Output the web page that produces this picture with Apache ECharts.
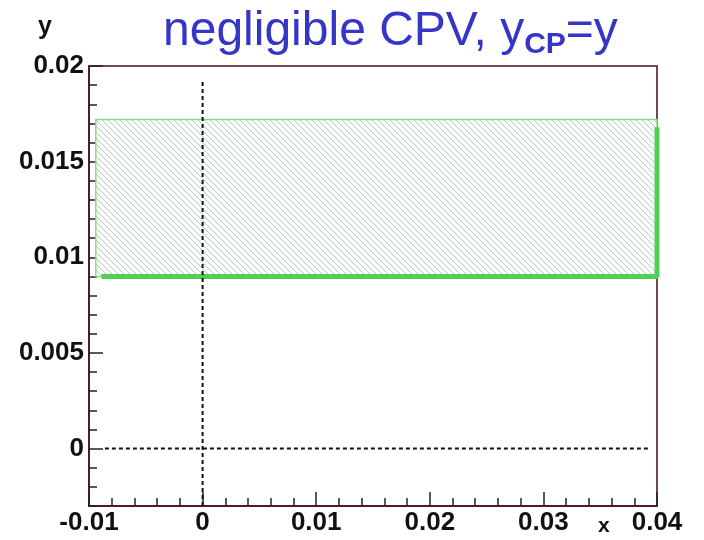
<!DOCTYPE html>
<html>
<head>
<meta charset="utf-8">
<script src="https://cdn.jsdelivr.net/npm/echarts@6/dist/echarts.min.js"></script>
<style>
  html, body { margin: 0; padding: 0; background: #fff; }
  #chart { width: 704px; height: 540px; }
</style>
</head>
<body>
<div id="chart"></div>
<script>
// axis ranges and ticks
var xRange = [-0.01, 0.04];
var yRange = [-0.003, 0.02];
var yMajorTicks = [0, 0.005, 0.01, 0.015, 0.02];
var yMinorTicks = [-0.003, -0.002, -0.001, 0.001, 0.002, 0.003, 0.004, 0.006, 0.007, 0.008, 0.009,
  0.011, 0.012, 0.013, 0.014, 0.016, 0.017, 0.018, 0.019];

// allowed band (hatched) for negligible CPV
var bandX = [-0.0094, 0.04];
var bandY = [0.009, 0.0172];
// thick edge of the band (bottom + right)
var bandEdge = [[-0.0089, 0.009], [0.04, 0.009], [0.04, 0.0168]];

// dashed reference lines
var zeroVLine = [[0, -0.003], [0, 0.0193]];
var zeroHLine = [[-0.0086, 0], [0.0394, 0]];

var frameColor = '#4a0d14';

// hatch pattern "\\\"
var hatch = document.createElement('canvas');
hatch.width = 6; hatch.height = 6;
var hc = hatch.getContext('2d');
hc.fillStyle = '#fcfefc';
hc.fillRect(0, 0, 6, 6);
hc.strokeStyle = '#b9cbc0';
hc.lineWidth = 1;
hc.beginPath();
hc.moveTo(-1, -1); hc.lineTo(7, 7);
hc.moveTo(-1, 5); hc.lineTo(1, 7);
hc.moveTo(5, -1); hc.lineTo(7, 1);
hc.stroke();

var myChart = echarts.init(document.getElementById('chart'));

function fmt(v) {
  return String(+v.toFixed(3));
}

var labelStyle = {
  fontWeight: 'bold', fontSize: 26, fontFamily: 'Liberation Sans, Arial, sans-serif',
  color: '#111'
};

var option = {
  animation: false,
  backgroundColor: '#fff',
  grid: {
    left: 89, right: 47, top: 66, bottom: 34,
    show: true,
    borderColor: frameColor,
    borderWidth: 1.5,
    backgroundColor: 'transparent'
  },
  graphic: [
    {
      type: 'text',
      left: 163, top: 8,
      style: {
        text: 'negligible CPV, y{sub|CP}=y',
        font: '48px "Liberation Sans", Arial, sans-serif',
        fill: '#3535c8',
        rich: {
          sub: {
            font: 'bold 30px "Liberation Sans", Arial, sans-serif',
            fill: '#3535c8',
            padding: [26, 0, 0, 0]
          }
        }
      }
    },
    {
      type: 'text',
      left: 38, top: 15,
      style: { text: 'y', font: 'bold 25px "Liberation Sans", Arial, sans-serif', fill: '#111' }
    },
    {
      type: 'text',
      left: 598, top: 516,
      style: { text: 'x', font: 'bold 21px "Liberation Sans", Arial, sans-serif', fill: '#111' }
    }
  ],
  xAxis: {
    type: 'value',
    min: xRange[0], max: xRange[1], interval: 0.01,
    axisLine: { show: true, onZero: false, lineStyle: { color: frameColor, width: 1.5 } },
    axisTick: { show: true, inside: true, length: 14, lineStyle: { color: '#222', width: 1.5 } },
    minorTick: { show: true, splitNumber: 5, length: 8, lineStyle: { color: '#222', width: 1.5 } },
    splitLine: { show: false },
    axisLabel: Object.assign({ margin: 4, formatter: fmt }, labelStyle)
  },
  yAxis: [
    {
      type: 'value',
      min: yRange[0], max: yRange[1],
      axisLine: { show: true, onZero: false, lineStyle: { color: frameColor, width: 1.5 } },
      axisTick: { show: true, inside: true, length: 14, customValues: yMajorTicks,
        lineStyle: { color: '#222', width: 1.5 } },
      splitLine: { show: false },
      axisLabel: Object.assign({ margin: 5, customValues: yMajorTicks, formatter: fmt }, labelStyle)
    },
    {
      type: 'value',
      position: 'left',
      min: yRange[0], max: yRange[1],
      axisLine: { show: false, onZero: false },
      axisTick: { show: true, inside: true, length: 8, customValues: yMinorTicks,
        lineStyle: { color: '#222', width: 1.5 } },
      splitLine: { show: false },
      axisLabel: { show: false }
    }
  ],
  series: [
    {
      name: 'band',
      type: 'custom',
      clip: false,
      data: [[bandX[0], bandY[0], bandX[1], bandY[1]]],
      encode: { x: [0, 2], y: [1, 3] },
      renderItem: function (params, api) {
        var p0 = api.coord([api.value(0), api.value(3)]);
        var p1 = api.coord([api.value(2), api.value(1)]);
        return {
          type: 'rect',
          shape: { x: p0[0], y: p0[1], width: p1[0] - p0[0], height: p1[1] - p0[1] },
          style: {
            fill: { image: hatch, repeat: 'repeat' },
            stroke: '#86da86',
            lineWidth: 1.5
          }
        };
      }
    },
    {
      name: 'edge',
      type: 'line',
      data: bandEdge,
      symbol: 'none',
      lineStyle: { color: '#52cf52', width: 5 }
    },
    {
      name: 'x0',
      type: 'line',
      data: zeroVLine,
      symbol: 'none',
      lineStyle: { color: '#111', width: 2, type: [4, 3] }
    },
    {
      name: 'y0',
      type: 'line',
      data: zeroHLine,
      symbol: 'none',
      lineStyle: { color: '#111', width: 2, type: [4, 3] }
    }
  ]
};

myChart.setOption(option);
</script>
</body>
</html>
